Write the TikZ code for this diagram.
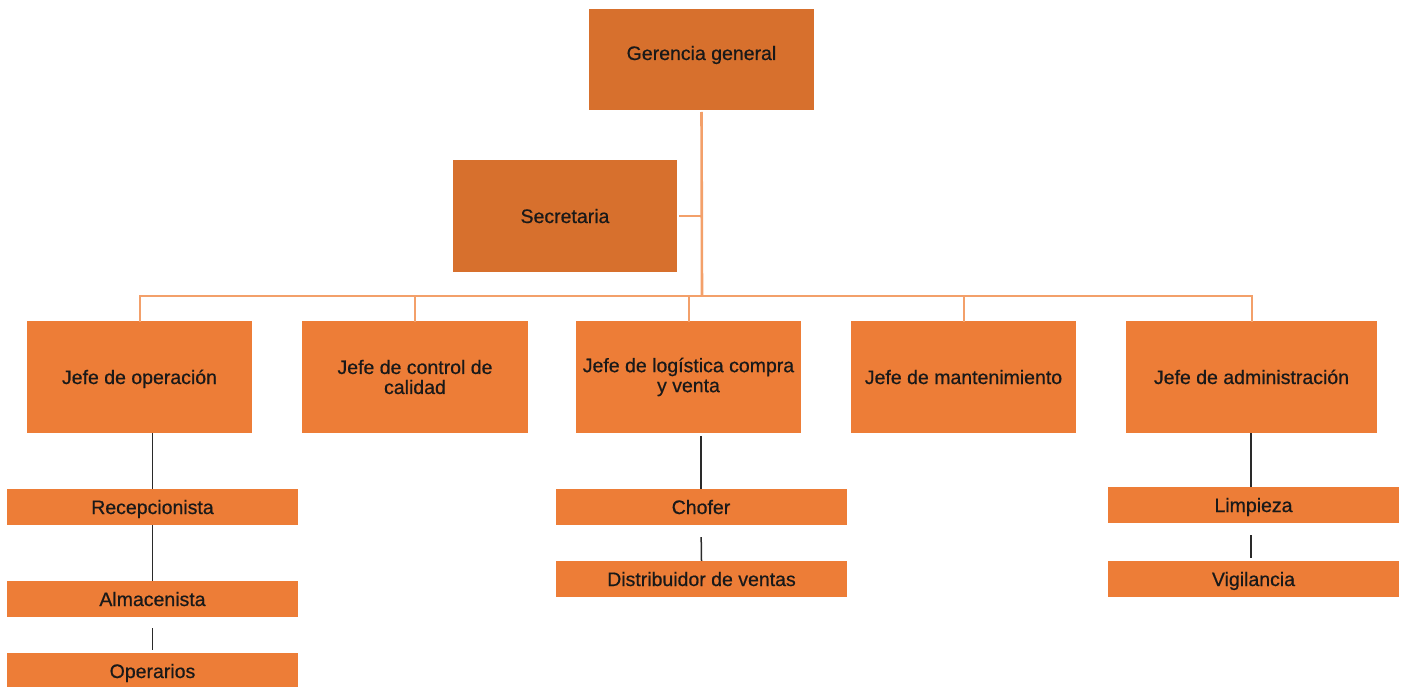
\documentclass[tikz,border=0pt]{standalone}
\usepackage{fontspec}
\setmainfont{Liberation Sans}
\newfontfamily\lblfont{Liberation Sans}[FakeBold=0.6]
\definecolor{dkor}{HTML}{D7702D}
\definecolor{orbox}{HTML}{ED7D37}
\definecolor{orline}{HTML}{F3A06A}
\definecolor{blkline}{HTML}{2A2A2A}
\tikzset{
  base/.style={rectangle, inner sep=2pt, align=center, text height=14pt, text depth=0pt,
    font=\lblfont\fontsize{19.5}{20}\selectfont, text=black!90},
  twoline/.style={text height={}, text depth={}},
  topbox/.style={base, fill=dkor},
  bigbox/.style={base, fill=orbox, minimum height=112pt},
  smallbox/.style={base, fill=orbox, minimum width=291pt, minimum height=36pt},
  orgline/.style={draw=orline, line width=2pt},
  blk/.style={draw=blkline, line width=1.5pt}
}
\begin{document}
\begin{tikzpicture}[x=1pt,y=-1pt]
\useasboundingbox (0,0) rectangle (1404,687);
% top level
\node[topbox, minimum width=225pt, minimum height=101pt, text depth=13pt] (ger) at (701.5,59.5) {Gerencia general};
\node[topbox, minimum width=224pt, minimum height=112pt] (sec) at (565,216) {Secretaria};
% second level
\node[bigbox, minimum width=225pt] (op) at (139.5,377) {Jefe de operación};
\node[bigbox, twoline, minimum width=226pt] (cal) at (415,377) {Jefe de control de\\calidad};
\node[bigbox, twoline, minimum width=225pt] (log) at (688.5,377) {Jefe de logística compra\\y venta};
\node[bigbox, minimum width=225pt] (man) at (963.5,377) {Jefe de mantenimiento};
\node[bigbox, minimum width=251pt] (adm) at (1251.5,377) {Jefe de administración};
% third level
\node[smallbox] (rec) at (152.5,507) {Recepcionista};
\node[smallbox] (alm) at (152.5,599) {Almacenista};
\node[smallbox] (ope) at (152.5,671) {Operarios};
\node[smallbox] (cho) at (701,507) {Chofer};
\node[smallbox] (dis) at (701.5,579) {Distribuidor de ventas};
\node[smallbox] (lim) at (1253.5,505) {Limpieza};
\node[smallbox] (vig) at (1253.5,579) {Vigilancia};
\coordinate (bar) at (702,296);
% orange connectors
\draw[orgline, line width=2.6pt] (ger.south |- 0,112) -- (bar);
\draw[orgline] ([xshift=2pt]sec.east) -- (sec.east -| bar);
\draw[orgline] ([yshift=-1pt]op.north) -- (op.north |- bar) -- (adm.north |- bar) -- ([yshift=-1pt]adm.north);
\draw[orgline] (cal.north |- bar) -- ([yshift=-1pt]cal.north);
\draw[orgline] (log.north |- bar) -- ([yshift=-1pt]log.north);
\draw[orgline] (man.north |- bar) -- ([yshift=-1pt]man.north);
% black connectors
\draw[blk] (op.south -| rec.north) -- (rec.north);
\draw[blk] (rec.south) -- (alm.north);
\draw[blk, shorten <=11pt, shorten >=3pt] (alm.south) -- (ope.north);
\draw[blk, shorten <=3pt] (log.south -| cho.north) -- (cho.north);
\draw[blk, shorten <=12pt] (cho.south) -- (dis.north);
\draw[blk] (adm.south -| 1251,0) -- (1251,487);
\draw[blk, shorten <=12pt, shorten >=3pt] (lim.south -| 1251,0) -- (vig.north -| 1251,0);
\end{tikzpicture}
\end{document}
